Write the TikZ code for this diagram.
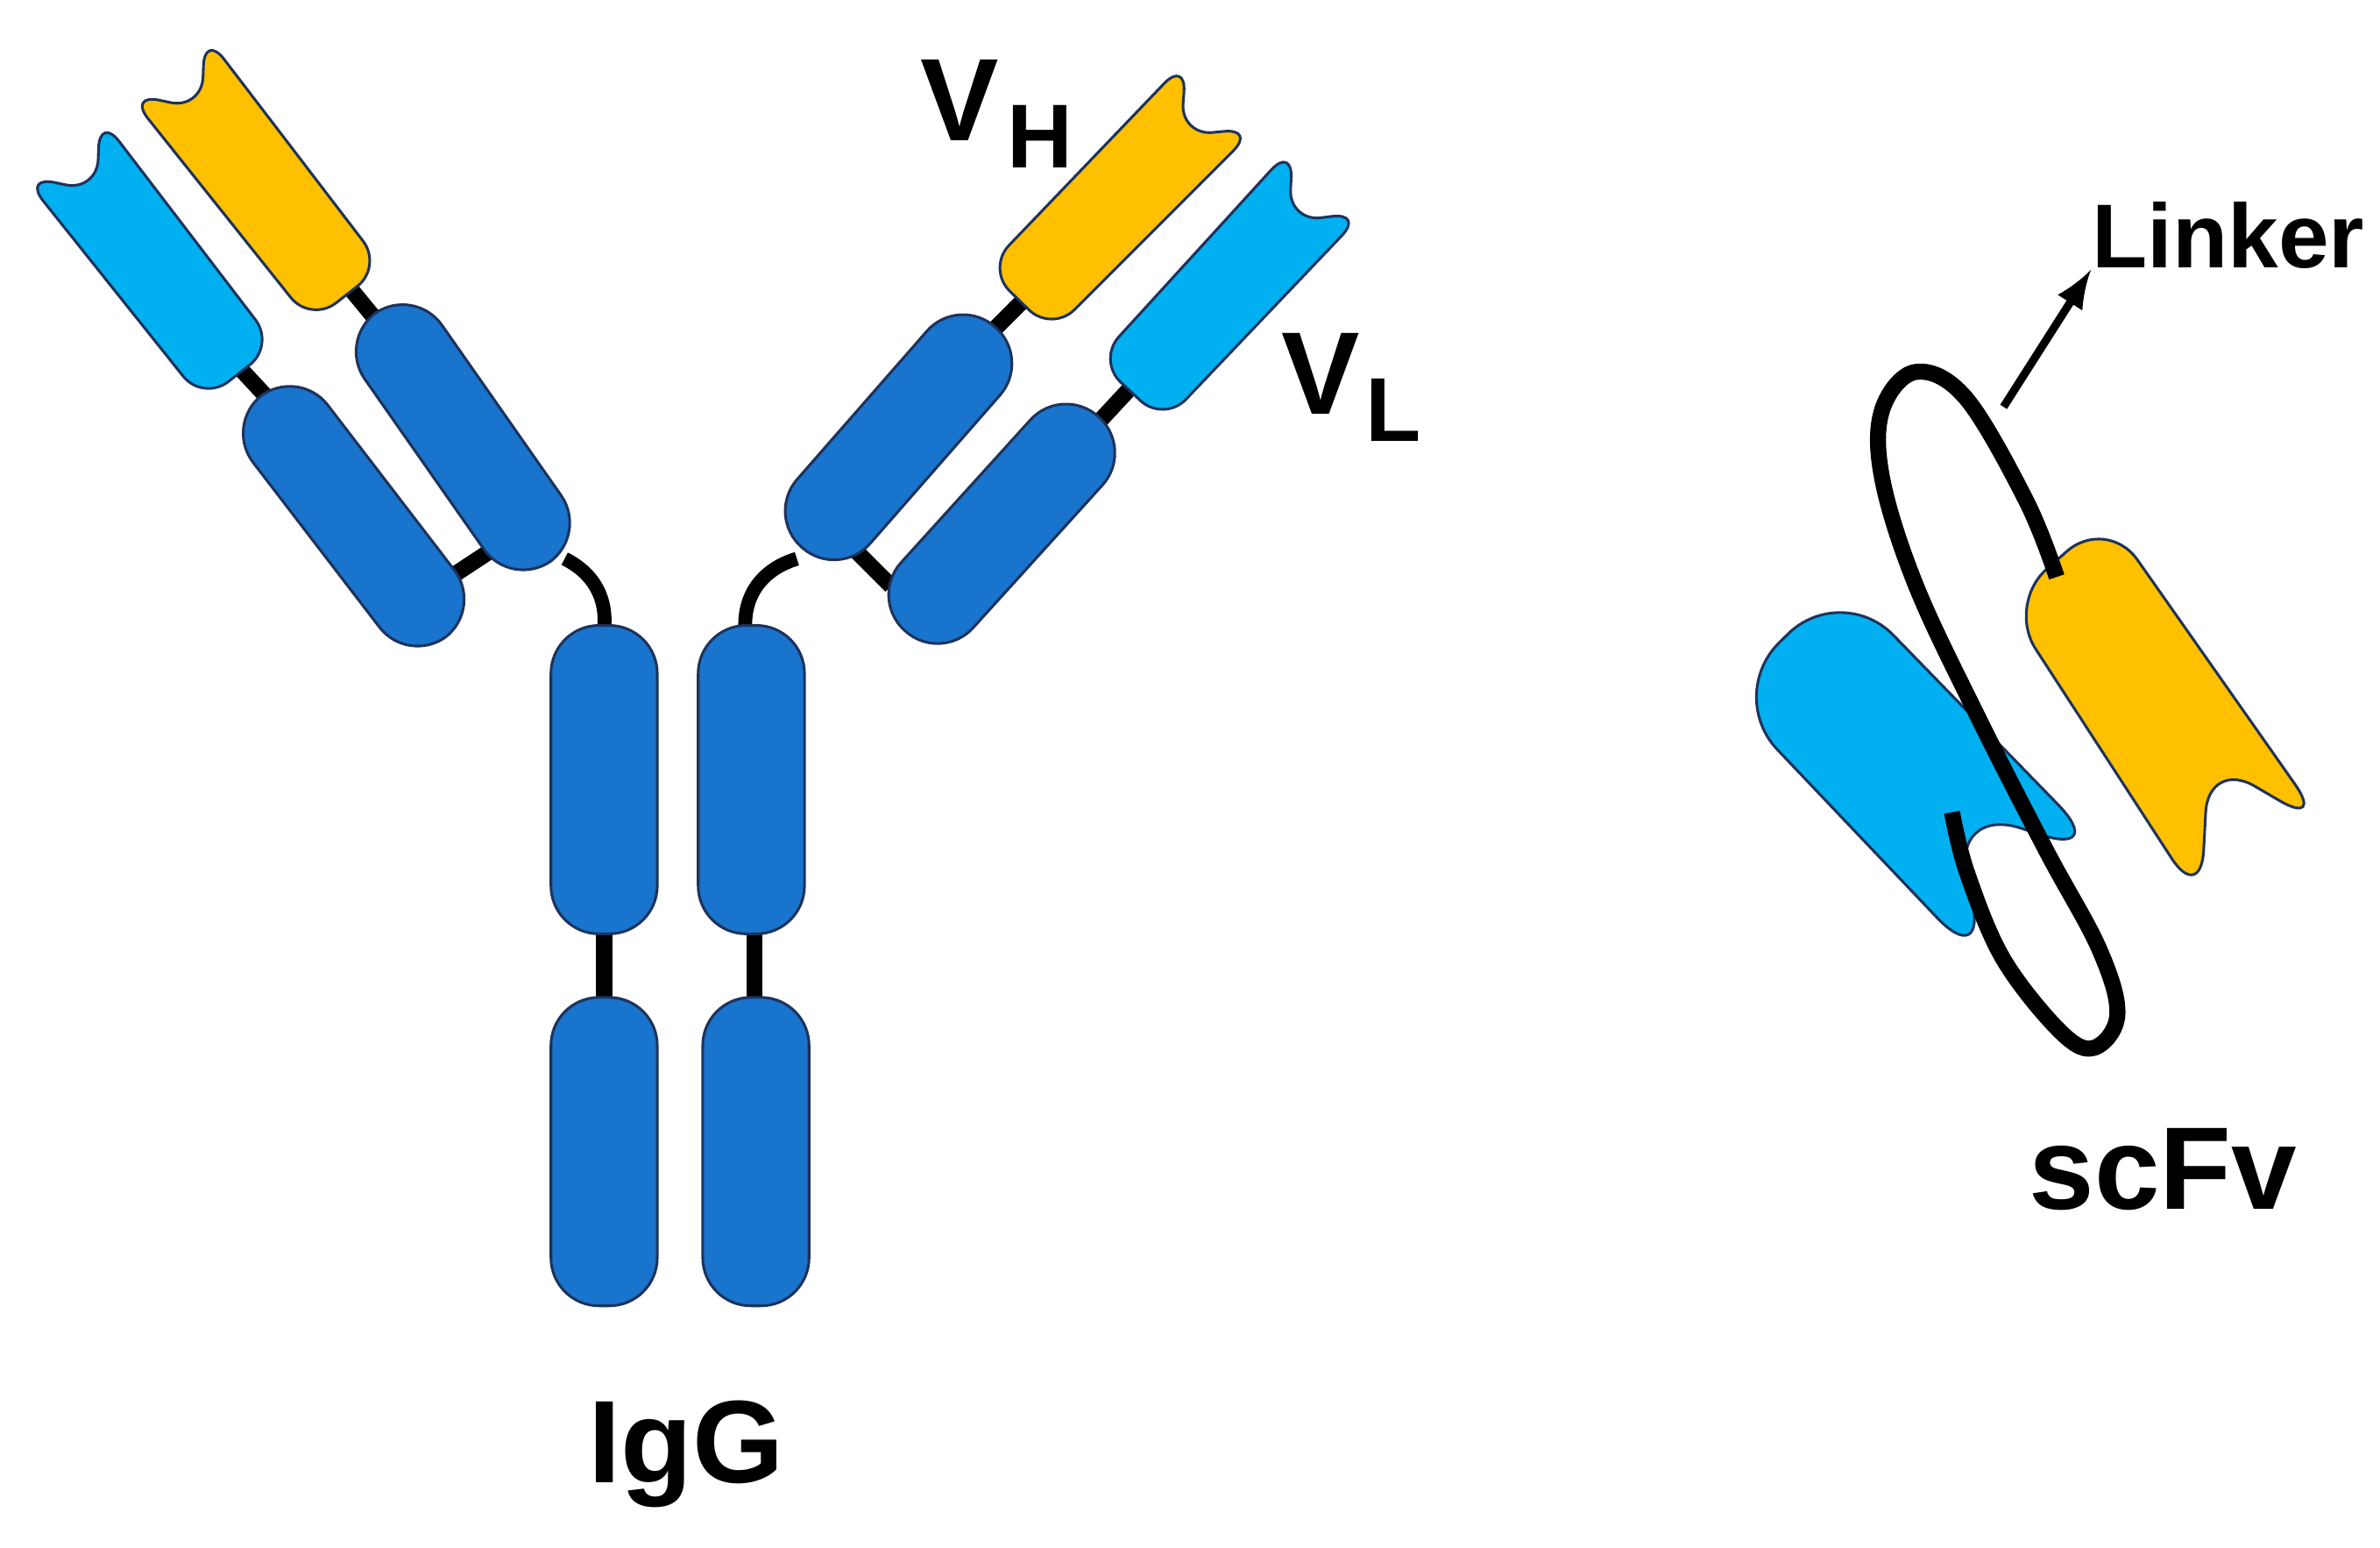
\documentclass[tikz,border=0pt]{standalone}
\usepackage{fontspec}
\setmainfont{Liberation Sans}
\begin{document}
\begin{tikzpicture}[x=0.01cm,y=-0.01cm]
\definecolor{dblue}{RGB}{24,116,205}
\definecolor{cyanv}{RGB}{0,176,240}
\definecolor{yellowv}{RGB}{255,192,0}
\definecolor{edgec}{RGB}{30,50,90}
\tikzset{
  dom/.style={fill=dblue,draw=edgec,line width=0.5pt,rounded corners=9pt},
  vh/.style={fill=yellowv,draw=edgec,line width=0.5pt,rounded corners=6pt},
  vl/.style={fill=cyanv,draw=edgec,line width=0.5pt,rounded corners=6pt},
  bar/.style={line width=3pt,black},
  lbl/.style={font=\bfseries\fontsize{22}{26}\selectfont,inner sep=0pt},
  sub/.style={font=\bfseries\fontsize{17}{20}\selectfont,inner sep=0pt}
}
\useasboundingbox (0,0) rectangle (1568,1019);
% connector bars (under boxes)
\draw[bar] (152,236) -- (178,264);
\draw[bar] (225,183) -- (248,211);
\draw[bar] (294,382) -- (332,357);
\draw[bar] (652,220) -- (678,194);
\draw[bar] (722,280) -- (748,252);
\draw[bar] (558,357) -- (587,386);
\draw[bar] (398,610) -- (398,662);
\draw[bar] (497,610) -- (497,662);
\draw[line width=2.6pt] (372,368) .. controls (392,378) and (400,395) .. (398,414);
\draw[line width=2.6pt] (525,368) .. controls (502,375) and (490,392) .. (491,414);
% variable domains
\def\vdom#1#2#3#4#5#6{\begin{scope}[shift={(#1,#2)},rotate=#3]
  \draw[#6] (-#4/2,-30) -- (#4/2,-32) -- (#4/2-38,0) -- (#4/2,32) -- (-#4/2,30) -- cycle;
\end{scope}}
\vdom{99}{171}{128}{190}{0}{vl}
\vdom{169}{118}{128}{193}{0}{vh}
\vdom{738}{130}{45.6}{190}{0}{vh}
\vdom{810}{188}{47}{191}{0}{vl}
% constant domains
\node[dom,minimum width=2cm,minimum height=0.62cm,rotate=-55] (lch) at (305,288) {};
\node[dom,minimum width=2cm,minimum height=0.62cm,rotate=-52.5] (lcl) at (233,340) {};
\node[dom,minimum width=1.93cm,minimum height=0.64cm,rotate=48.8] (rch) at (592,288) {};
\node[dom,minimum width=1.9cm,minimum height=0.64cm,rotate=47.8] (rcl) at (660,345) {};
\node[dom,minimum width=0.7cm,minimum height=2.03cm] (h1) at (398,513.5) {};
\node[dom,minimum width=0.7cm,minimum height=2.03cm] (h2) at (495,513.5) {};
\node[dom,minimum width=0.7cm,minimum height=2.03cm] (f1) at (398,758.5) {};
\node[dom,minimum width=0.7cm,minimum height=2.03cm] (f2) at (498,758.5) {};
% labels
\node[lbl] (vhV) at (632,66) {V};
\node[sub] (vhH) at (685,90) {H};
\node[lbl] (vlV) at (870,246) {V};
\node[sub] (vlL) at (918,270) {L};
\node[lbl] (igg) at (452,958) {IgG};
\node[lbl] (scfv) at (1425,770) {scFv};
\node[font=\bfseries\fontsize{17}{20}\selectfont,inner sep=0pt] (linker) at (1468,155) {Linker};
% scFv
\draw[vl,rounded corners=14pt] (1137,458) -- (1213,383) -- (1390,565) -- (1285,530) -- (1310,640) -- cycle;
\draw[vh,rounded corners=10pt] (1322,398) -- (1388,340) -- (1532,545) -- (1455,500) -- (1450,595) -- cycle;
\draw[line width=3pt,rounded corners=0pt] plot[smooth,tension=0.6] coordinates {(1355,380) (1335,330) (1295,262) (1262,245) (1240,270) (1240,315) (1262,385) (1302,470) (1348,560) (1383,625) (1395,668) (1380,690) (1358,680) (1320,632) (1296,575) (1286,535)};
\coordinate (lstart) at (1320,268);
\draw[-latex,line width=1.5pt] (lstart) -- (linker.south west);
\end{tikzpicture}
\end{document}
